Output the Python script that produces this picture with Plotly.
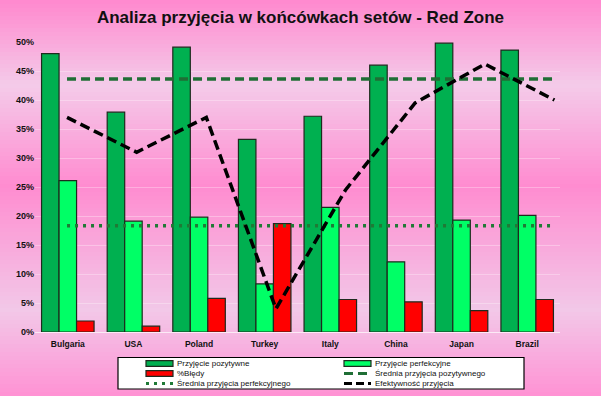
import plotly.graph_objects as go

categories = ["Bulgaria", "USA", "Poland", "Turkey", "Italy", "China", "Japan", "Brazil"]
przyjecie_pozytywne = [48.0, 37.9, 49.1, 33.2, 37.2, 46.0, 49.8, 48.6]
przyjecie_perfekcyjne = [26.1, 19.1, 19.8, 8.3, 21.5, 12.1, 19.3, 20.1]
bledy = [1.9, 1.0, 5.8, 18.7, 5.6, 5.2, 3.7, 5.6]
srednia_pozytywnego = [43.6, 43.6, 43.6, 43.6, 43.6, 43.6, 43.6, 43.6]
srednia_perfekcyjnego = [18.3, 18.3, 18.3, 18.3, 18.3, 18.3, 18.3, 18.3]
efektywnosc = [37.0, 31.0, 37.0, 4.0, 24.5, 39.5, 46.2, 40.0]
y_ticks = [0, 5, 10, 15, 20, 25, 30, 35, 40, 45, 50]
series_names = ["Przyjęcie pozytywne", "Przyjęcie perfekcyjne", "%Błędy",
                "Średnia przyjęcia pozytywnego", "Średnia przyjęcia perfekcyjnego",
                "Efektywność przyjęcia"]

W, H = 601, 396
ML, MR, MT, MB = 35, 41, 42, 64
PW, PH = W - ML - MR, H - MT - MB


def px_x(px):
    return (px - ML) / PW


def px_y(py):
    return (H - MB - py) / PH


C_POS, C_PERF, C_ERR = "#00b050", "#00ff66", "#ff0000"
C_AVGPOS, C_AVGPERF, C_EFF = "#1f6e35", "#1f7a36", "#000000"
bar_line = dict(color="#1e2a1e", width=1.2)
font_family = "Liberation Sans, Arial, sans-serif"
dash_style = "9px,5px"
dot_style = "3px,5px"

fig = go.Figure()
fig.add_trace(go.Bar(name=series_names[0], x=categories, y=przyjecie_pozytywne,
                     marker=dict(color=C_POS, line=bar_line)))
fig.add_trace(go.Bar(name=series_names[1], x=categories, y=przyjecie_perfekcyjne,
                     marker=dict(color=C_PERF, line=bar_line)))
fig.add_trace(go.Bar(name=series_names[2], x=categories, y=bledy,
                     marker=dict(color=C_ERR, line=bar_line)))
fig.add_trace(go.Scatter(name=series_names[3], x=categories, y=srednia_pozytywnego,
                         xaxis="x2", mode="lines",
                         line=dict(color=C_AVGPOS, width=3.5, dash=dash_style)))
fig.add_trace(go.Scatter(name=series_names[4], x=categories, y=srednia_perfekcyjnego,
                         xaxis="x2", mode="lines",
                         line=dict(color=C_AVGPERF, width=3.5, dash=dot_style)))
fig.add_trace(go.Scatter(name=series_names[5], x=categories, y=efektywnosc,
                         xaxis="x2", mode="lines",
                         line=dict(color=C_EFF, width=3.5, dash="10px,5px")))

# vertical pink gradient background built from thin bands
stops = [(0, (255, 136, 206)), (85, (244, 203, 233)), (185, (255, 140, 208)),
         (310, (242, 200, 232)), (396, (255, 146, 212))]
shapes = []
step = 4
for py in range(0, H, step):
    pc = py + step / 2
    for (a, ca), (b, cb) in zip(stops[:-1], stops[1:]):
        if a <= pc <= b:
            t = (pc - a) / (b - a)
            c = tuple(round(ca[i] + (cb[i] - ca[i]) * t) for i in range(3))
            break
    shapes.append(dict(type="rect", xref="paper", yref="paper",
                       x0=px_x(-2), x1=px_x(W + 2), y0=px_y(py + step), y1=px_y(py),
                       fillcolor="rgb(%d,%d,%d)" % c, line=dict(width=0), layer="below"))

# hand-built compact legend (two columns, three rows)
annotations = []
shapes.append(dict(type="rect", xref="paper", yref="paper",
                   x0=px_x(118), x1=px_x(524), y0=px_y(389), y1=px_y(357.5),
                   fillcolor="#ffffff", line=dict(color="#000000", width=1.2), layer="above"))
legend_items = [
    (series_names[0], "bar", C_POS, None),
    (series_names[1], "bar", C_PERF, None),
    (series_names[2], "bar", C_ERR, None),
    (series_names[3], "line", C_AVGPOS, dash_style),
    (series_names[4], "line", C_AVGPERF, dot_style),
    (series_names[5], "line", C_EFF, "8px,4px"),
]
col_x = [146, 344]
row_y = [363.5, 373.5, 383.5]
for k, (name, kind, color, dash) in enumerate(legend_items):
    sx = col_x[k % 2]
    sy = row_y[k // 2]
    if kind == "bar":
        shapes.append(dict(type="rect", xref="paper", yref="paper",
                           x0=px_x(sx), x1=px_x(sx + 27), y0=px_y(sy + 2.8), y1=px_y(sy - 2.8),
                           fillcolor=color, line=dict(color="#1e2a1e", width=1.2), layer="above"))
    else:
        shapes.append(dict(type="line", xref="paper", yref="paper",
                           x0=px_x(sx), x1=px_x(sx + 27), y0=px_y(sy), y1=px_y(sy),
                           line=dict(color=color, width=3, dash=dash), layer="above"))
    annotations.append(dict(text=name, xref="paper", yref="paper",
                            x=px_x(sx + 29), y=px_y(sy), xanchor="left", yanchor="middle",
                            showarrow=False,
                            font=dict(family=font_family, size=8, color="#111111")))

fig.update_layout(
    width=W, height=H,
    margin=dict(l=ML, r=MR, t=MT, b=MB, autoexpand=False),
    paper_bgcolor="#ff8ad0",
    plot_bgcolor="rgba(0,0,0,0)",
    shapes=shapes,
    annotations=annotations,
    barmode="group", bargap=0.2, bargroupgap=0,
    title=dict(text="<b>Analiza przyjęcia w końcówkach setów - Red Zone</b>",
               x=0.5, xref="container", xanchor="center", y=1 - 17 / H, yanchor="middle",
               font=dict(family=font_family, size=17, color="#111111")),
    font=dict(family=font_family, size=9, color="#111111"),
    xaxis=dict(type="category", range=[-0.5, 7.5], showgrid=False, zeroline=False,
               showline=True, linecolor="rgba(255,255,255,0.7)", linewidth=1,
               ticks="", ticklabelstandoff=4,
               tickfont=dict(size=8.5, family=font_family, color="#111111"),
               tickprefix="<b>", ticksuffix="</b>"),
    xaxis2=dict(type="category", overlaying="x", range=[-0.46, 7.08], visible=False),
    yaxis=dict(range=[0, 50], tickvals=y_ticks, ticktext=["<b>%d%%</b>" % v for v in y_ticks],
               showgrid=True, gridcolor="rgba(255,255,255,0.3)", gridwidth=1,
               zeroline=False, ticks="", tickfont=dict(size=9, color="#111111")),
    showlegend=False,
    hovermode=False,
)

fig.write_html("out.html", config={"displayModeBar": False},
               post_script="document.body.style.margin='0px';")
